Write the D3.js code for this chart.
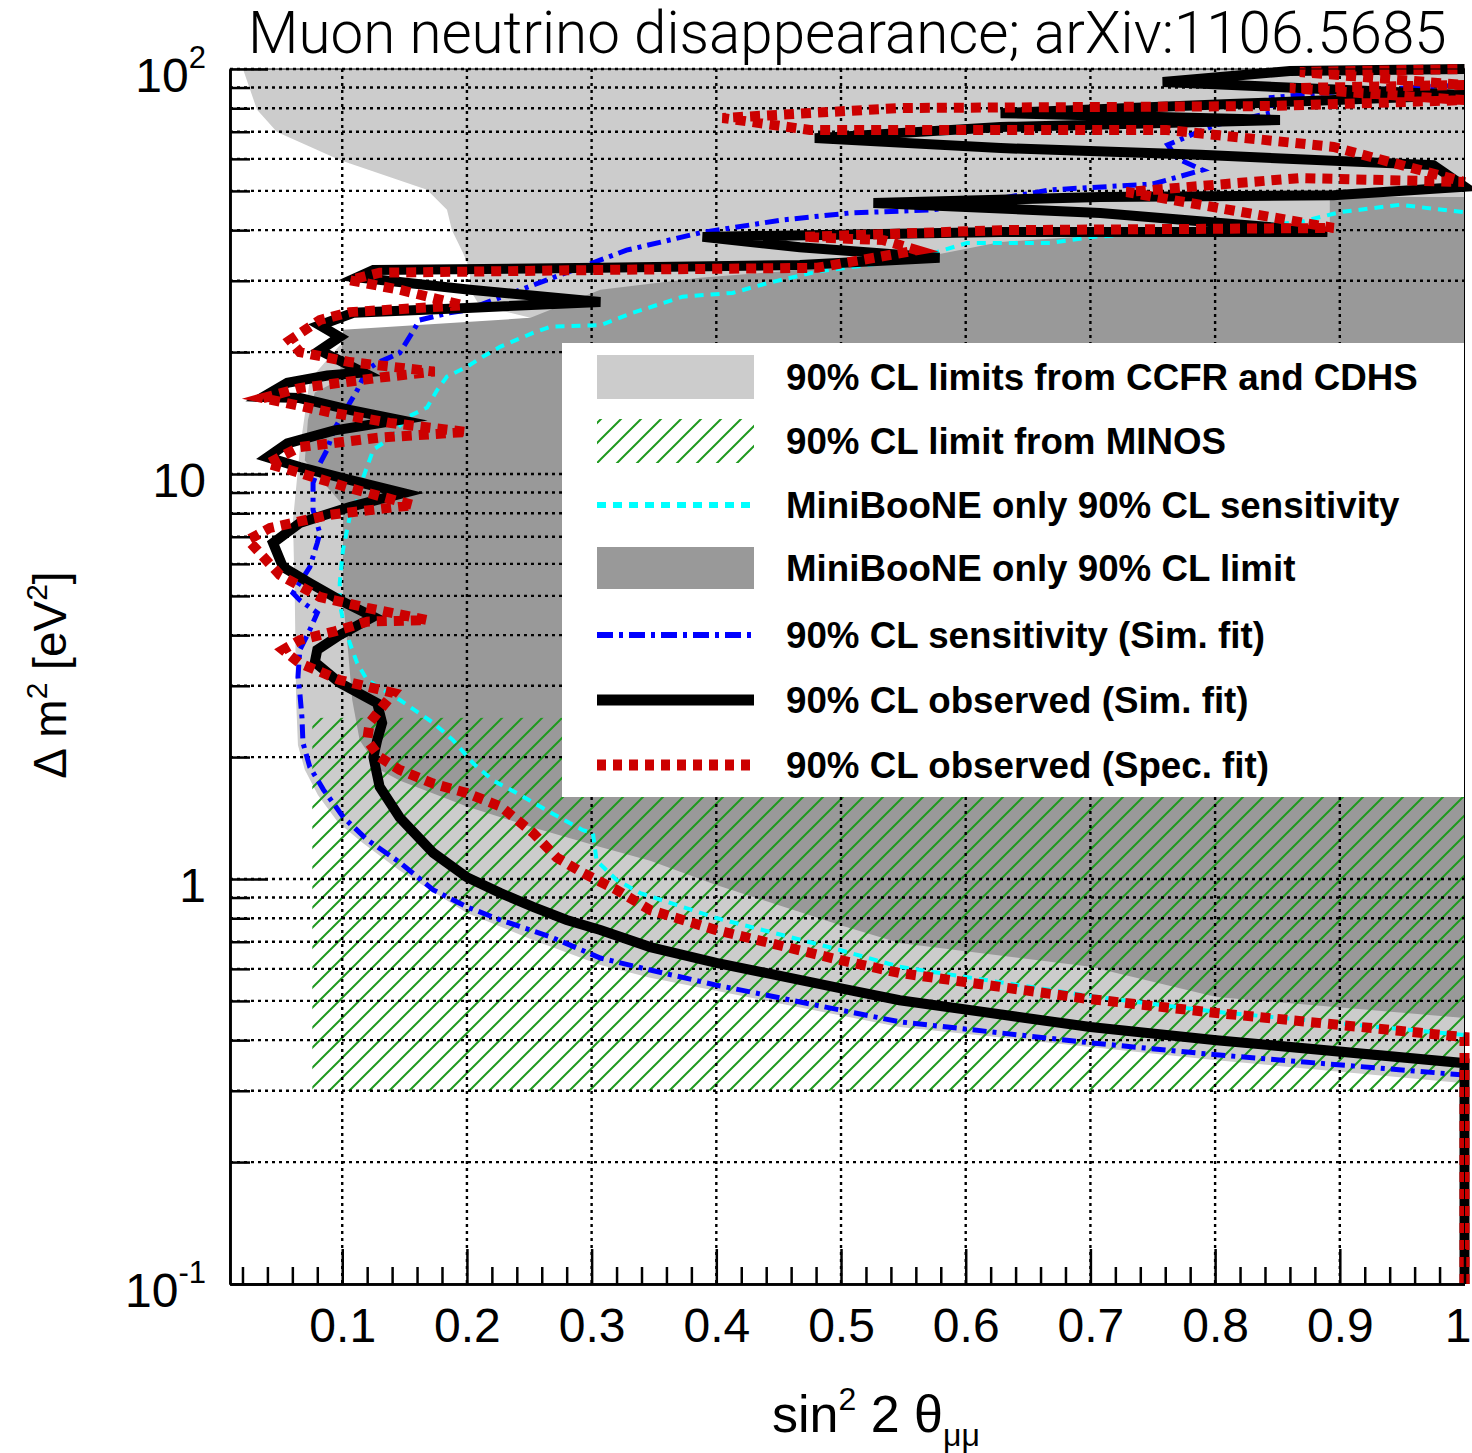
<!DOCTYPE html>
<html><head><meta charset="utf-8">
<script src="https://cdn.jsdelivr.net/npm/d3@7"></script>
<style>body{margin:0;background:#fff} svg{display:block}</style>
</head><body>
<svg id="chart" width="1472" height="1453"></svg>
<script>
// ---------------- data (sin^2 2theta, Delta m^2 [eV^2]) ----------------
const sinMajorTicks = [0.1,0.2,0.3,0.4,0.5,0.6,0.7,0.8,0.9,1];
const sinMinorTicks = [0.02,0.04,0.06,0.08,0.12,0.14,0.16,0.18,0.22,0.24,0.26,0.28,0.32,0.34,0.36,0.38,0.42,0.44,0.46,0.48,0.52,0.54,0.56,0.58,0.62,0.64,0.66,0.68,0.72,0.74,0.76,0.78,0.82,0.84,0.86,0.88,0.92,0.94,0.96,0.98];
const sinTickLabels = ["0.1","0.2","0.3","0.4","0.5","0.6","0.7","0.8","0.9","1"];
const dmMajorTicks = [0.1,1,10,100];
const dmMinorTicks = [0.2,0.3,0.4,0.5,0.6,0.7,0.8,0.9,2,3,4,5,6,7,8,9,20,30,40,50,60,70,80,90];
const dmTickLabels = [["10","-1"],["1",""],["10",""],["10","2"]];

const ccfrCdhsBoundary = [
 [0.0204,100],[0.0317,79.3],[0.0477,69.9],[0.098,59.6],[0.168,50.3],[0.184,44.9],[0.188,40.0],
 [0.197,35.1],[0.2025,31.9],[0.2025,28.5],[0.210,26.1],[0.251,24.3],[0.162,22.7],[0.098,20.8],
 [0.074,17.1],[0.066,11.5],[0.0605,7.69],[0.062,4.88],[0.063,2.77],[0.0645,2.14],[0.070,1.86],
 [0.0806,1.61],[0.0966,1.38],[0.116,1.23],[0.146,1.05],[0.200,0.824],[0.253,0.707],[0.307,0.613],
 [0.347,0.570],[0.547,0.431],[0.700,0.385],[0.801,0.357],[1.0,0.313],[1.0,100]
];
const minibooneLimitBoundary = [
 [1.0,48.3],[0.892,48.3],[0.892,39.4],[0.700,38.7],[0.628,37.4],[0.547,33.4],[0.387,30.5],
 [0.307,28.5],[0.251,24.3],[0.1006,22.7],[0.098,17.1],[0.078,15.9],[0.0725,13.6],[0.070,10.8],
 [0.090,9.13],[0.1006,8.38],[0.1006,4.88],[0.1046,3.68],[0.108,2.77],[0.114,2.20],[0.130,1.86],
 [0.146,1.75],[0.200,1.51],[0.253,1.34],[0.307,1.20],[0.347,1.11],[0.400,0.966],[0.499,0.770],
 [0.547,0.695],[0.700,0.607],[0.801,0.511],[1.0,0.454]
];
const minosSin = [0.076, 1.0];
const minosDm = [0.3, 2.5];

const minibooneSens = [
 [1.0,0.412],[0.801,0.470],[0.700,0.514],[0.547,0.607],[0.499,0.668],[0.400,0.801],[0.339,0.923],
 [0.320,0.995],[0.304,1.11],[0.301,1.30],[0.293,1.32],[0.267,1.46],[0.240,1.63],[0.221,1.75],
 [0.205,1.93],[0.189,2.20],[0.173,2.43],[0.146,2.77],[0.120,3.10],[0.112,3.41],[0.106,3.83],
 [0.1006,4.36],[0.098,4.80],[0.098,5.38],[0.1006,6.49],[0.106,7.83],[0.112,8.62],[0.117,9.84],
 [0.125,11.5],[0.136,12.1],[0.152,13.8],[0.168,14.6],[0.176,16.1],[0.184,17.4],[0.200,18.4],
 [0.213,19.5],[0.2265,20.6],[0.253,22.3],[0.267,23.1],[0.307,23.3],[0.333,25.0],[0.373,27.4],
 [0.413,28.0],[0.441,29.6],[0.481,31.6],[0.534,33.2],[0.574,35.1],[0.601,37.2],[0.668,37.2],
 [0.702,38.5],[0.788,40.0],[0.868,41.9],[0.900,44.3],[0.948,46.2],[1.0,44.3]
];
const simSens = [
 [1.0,0.328],[0.801,0.368],[0.700,0.394],[0.547,0.444],[0.499,0.475],[0.400,0.547],[0.347,0.596],
 [0.307,0.638],[0.267,0.720],[0.227,0.792],[0.200,0.853],[0.173,0.940],[0.146,1.10],[0.120,1.25],
 [0.101,1.42],[0.085,1.66],[0.074,1.89],[0.0685,2.17],[0.0677,2.51],[0.066,2.88],[0.0645,3.15],
 [0.066,3.68],[0.074,4.12],[0.080,4.54],[0.066,4.88],[0.0605,5.08],[0.074,5.89],[0.080,6.76],
 [0.082,7.15],[0.0766,8.15],[0.0766,9.50],[0.082,10.6],[0.088,11.5],[0.093,12.8],[0.112,16.1],
 [0.120,18.1],[0.128,18.8],[0.146,19.9],[0.154,21.8],[0.162,24.0],[0.186,25.0],[0.200,25.4],
 [0.243,28.5],[0.328,35.7],[0.387,39.4],[0.453,42.4],[0.507,44.1],[0.574,44.9],[0.668,50.3],
 [0.750,52.0],[0.790,56.3],[0.770,60.0],[0.762,65.0],[0.800,72.7],[0.845,78.0],[0.845,85.0],
 [0.900,88.0],[1.0,91.3]
];
const simObs = [
 [1.0,0.1],[1.0,0.351],[0.801,0.400],[0.700,0.431],[0.547,0.502],[0.499,0.538],[0.400,0.621],
 [0.347,0.679],[0.307,0.748],[0.280,0.792],[0.253,0.853],[0.227,0.923],[0.200,1.01],[0.173,1.16],
 [0.146,1.42],[0.130,1.69],[0.125,2.00],[0.128,2.20],[0.132,2.43],[0.128,2.72],[0.098,3.05],
 [0.078,3.43],[0.080,3.68],[0.098,4.00],[0.125,4.44],[0.098,4.88],[0.074,5.38],[0.0525,5.89],
 [0.0445,6.76],[0.066,7.57],[0.106,8.29],[0.149,8.97],[0.106,9.67],[0.066,10.4],[0.040,11.0],
 [0.056,11.9],[0.093,12.8],[0.146,13.6],[0.106,14.4],[0.066,15.4],[0.0365,15.5],[0.056,16.8],
 [0.088,17.5],[0.117,17.8],[0.082,20.2],[0.098,21.8],[0.082,23.3],[0.109,25.0],[0.200,25.7],
 [0.307,26.6],[0.2025,28.5],[0.133,30.1],[0.112,30.6],[0.125,31.9],[0.307,32.3],[0.467,32.8],
 [0.579,34.2],[0.467,36.3],[0.389,38.5],[0.628,39.6],[0.890,39.6],[0.708,44.1],[0.526,46.7],
 [0.708,48.3],[0.895,48.8],[1.0,51.2],[0.975,57.9],[0.788,61.4],[0.628,63.8],[0.479,67.5],
 [0.628,71.9],[0.852,74.8],[0.628,77.8],[0.812,81.9],[1.0,86.2],[0.758,92.9],[0.860,98.9],[1.0,100]
];
const specObs = [
 [1.0,0.1],[1.0,0.407],[0.801,0.467],[0.693,0.508],[0.547,0.586],[0.499,0.631],[0.400,0.748],
 [0.347,0.838],[0.320,0.940],[0.293,1.035],[0.272,1.13],[0.253,1.30],[0.227,1.51],[0.200,1.63],
 [0.173,1.72],[0.146,1.86],[0.130,2.00],[0.120,2.20],[0.122,2.43],[0.141,2.88],[0.098,3.10],
 [0.066,3.41],[0.0525,3.68],[0.066,3.89],[0.093,4.08],[0.120,4.32],[0.168,4.36],[0.120,4.67],
 [0.082,4.97],[0.050,5.63],[0.0244,6.87],[0.042,7.36],[0.090,7.93],[0.157,8.38],[0.106,9.23],
 [0.058,10.23],[0.040,10.6],[0.066,11.66],[0.130,12.3],[0.200,12.7],[0.138,13.37],[0.090,14.2],
 [0.0365,15.4],[0.066,16.3],[0.130,17.3],[0.174,17.9],[0.106,18.9],[0.066,20.0],[0.058,21.4],
 [0.082,24.0],[0.106,25.1],[0.197,26.1],[0.146,28.5],[0.106,30.1],[0.130,31.4],[0.307,31.9],
 [0.481,32.3],[0.561,35.7],[0.534,37.8],[0.470,38.5],[0.628,40.0],[0.895,40.5],[0.729,49.7],
 [0.868,53.8],[1.0,52.6],[0.895,64.2],[0.761,70.7],[0.475,70.7],[0.405,75.7],[0.547,80.1],
 [0.844,81.0],[1.0,83.8],[0.860,89.7],[1.0,91.3],[0.868,98.3],[1.0,100]
];

const legendLabels = [
 "90% CL limits from CCFR and CDHS",
 "90% CL limit from MINOS",
 "MiniBooNE only 90% CL sensitivity",
 "MiniBooNE only 90% CL limit",
 "90% CL sensitivity (Sim. fit)",
 "90% CL observed (Sim. fit)",
 "90% CL observed (Spec. fit)"
];

// ---------------- drawing ----------------
const svg = d3.select("#chart");
const X0 = 230, X1 = 1464.5, Y0 = 69, Y1 = 1284;
const x = d3.scaleLinear().domain([0.01, 1]).range([X0, X1]);
const y = d3.scaleLog().domain([0.1, 100]).range([Y1, Y0]);

const LIGHT = "#cccccc", DARK = "#999999", GREEN = "#1f991f", CYAN = "#00ffff", BLUE = "#0000ff", RED = "#cc0000";

const defs = svg.append("defs");
defs.append("clipPath").attr("id","plotclip").append("rect")
  .attr("x", X0).attr("y", Y0).attr("width", X1 - X0).attr("height", Y1 - Y0);
const pat = defs.append("pattern").attr("id","hatch").attr("patternUnits","userSpaceOnUse")
  .attr("width",20).attr("height",20);
pat.append("path").attr("d","M-5,5 L5,-5 M0,20 L20,0 M15,25 L25,15")
  .attr("stroke",GREEN).attr("stroke-width",2).attr("fill","none");

const plot = svg.append("g").attr("clip-path","url(#plotclip)");
const area = d3.line().x(d => x(d[0])).y(d => y(d[1]));

plot.append("path").attr("d", area(ccfrCdhsBoundary) + "Z").attr("fill", LIGHT);
plot.append("path").attr("d", area(minibooneLimitBoundary) + "Z").attr("fill", DARK);
plot.append("rect")
  .attr("x", x(minosSin[0])).attr("y", y(minosDm[1]))
  .attr("width", x(minosSin[1]) - x(minosSin[0])).attr("height", y(minosDm[0]) - y(minosDm[1]))
  .attr("fill","url(#hatch)");

// grid
const grid = svg.append("g").attr("stroke","#000").attr("stroke-width",2.4).attr("stroke-dasharray","3,4");
dmMinorTicks.concat(dmMajorTicks.filter(d => d > 0.1)).forEach(d => {
  grid.append("line").attr("x1", X0).attr("x2", X1).attr("y1", y(d)).attr("y2", y(d));
});
sinMajorTicks.filter(d => d < 1).forEach(d => {
  grid.append("line").attr("y1", Y0).attr("y2", Y1).attr("x1", x(d)).attr("x2", x(d));
});

// curves
const line = d3.line().x(d => x(d[0])).y(d => y(d[1]));
svg.append("path").attr("d", line(minibooneSens)).attr("fill","none").attr("stroke",CYAN)
  .attr("stroke-width",4).attr("stroke-dasharray","9,7");
svg.append("path").attr("d", line(simSens)).attr("fill","none").attr("stroke",BLUE)
  .attr("stroke-width",5).attr("stroke-dasharray","14,6,4,6");
svg.append("path").attr("d", line(simObs)).attr("fill","none").attr("stroke","#000")
  .attr("stroke-width",10).attr("stroke-linejoin","miter").attr("stroke-miterlimit",6);
svg.append("path").attr("d", line(specObs)).attr("fill","none").attr("stroke",RED)
  .attr("stroke-width",10).attr("stroke-dasharray","10,7").attr("stroke-linejoin","miter").attr("stroke-miterlimit",6);

// legend
const lg = svg.append("g");
lg.append("rect").attr("x",562).attr("y",343).attr("width",1466-562).attr("height",797-343).attr("fill","#fff");
const rowY = [377, 441, 505, 568, 635, 700, 765];
const SX0 = 597, SX1 = 754;
lg.append("rect").attr("x",SX0).attr("y",rowY[0]-22).attr("width",SX1-SX0).attr("height",44).attr("fill",LIGHT);
lg.append("rect").attr("x",SX0).attr("y",rowY[1]-22).attr("width",SX1-SX0).attr("height",44).attr("fill","url(#hatch)");
lg.append("line").attr("x1",SX0).attr("x2",SX1).attr("y1",rowY[2]).attr("y2",rowY[2]).attr("stroke",CYAN).attr("stroke-width",6).attr("stroke-dasharray","9,7");
lg.append("rect").attr("x",SX0).attr("y",rowY[3]-21).attr("width",SX1-SX0).attr("height",42).attr("fill",DARK);
lg.append("line").attr("x1",SX0).attr("x2",SX1).attr("y1",rowY[4]).attr("y2",rowY[4]).attr("stroke",BLUE).attr("stroke-width",6).attr("stroke-dasharray","16,6,4,6");
lg.append("line").attr("x1",SX0).attr("x2",SX1).attr("y1",rowY[5]).attr("y2",rowY[5]).attr("stroke","#000").attr("stroke-width",11);
lg.append("line").attr("x1",SX0).attr("x2",SX1).attr("y1",rowY[6]).attr("y2",rowY[6]).attr("stroke",RED).attr("stroke-width",11).attr("stroke-dasharray","9,7");
const ltg = lg.append("g");
const lt = ltg.selectAll("text.leg").data(legendLabels).enter().append("text").attr("class","leg")
  .attr("x",0).attr("y",(d,i) => rowY[i] + 13.5)
  .attr("font-family","'Liberation Sans',Arial,Helvetica,sans-serif")
  .attr("font-weight","bold").attr("font-size",37.5).attr("fill","#000").text(d => d);
{
  const w0 = lt.nodes()[0].getComputedTextLength();
  const sx = 632 / w0;
  ltg.attr("transform", `translate(786,0) scale(${sx},1)`);
}

// frame
svg.append("rect").attr("x",X0).attr("y",Y0).attr("width",X1-X0).attr("height",Y1-Y0)
  .attr("fill","none").attr("stroke","#000").attr("stroke-width",1);

// axes
const FONT = "'Liberation Sans',Arial,Helvetica,sans-serif";
const xMajor = d3.axisBottom(x).tickValues(sinMajorTicks).tickSize(-35).tickSizeOuter(0).tickPadding(24)
  .tickFormat((d,i) => sinTickLabels[i]);
const xMinor = d3.axisBottom(x).tickValues(sinMinorTicks).tickSize(-17).tickSizeOuter(0).tickFormat("");
const gx1 = svg.append("g").attr("transform",`translate(0,${Y1})`).call(xMajor);
const gx2 = svg.append("g").attr("transform",`translate(0,${Y1})`).call(xMinor);
const yMajor = d3.axisLeft(y).tickValues(dmMajorTicks).tickSize(-38).tickSizeOuter(0).tickFormat("");
const yMinor = d3.axisLeft(y).tickValues(dmMinorTicks).tickSize(-20).tickSizeOuter(0).tickFormat("");
const gy1 = svg.append("g").attr("transform",`translate(${X0},0)`).call(yMajor);
const gy2 = svg.append("g").attr("transform",`translate(${X0},0)`).call(yMinor);
[gx1,gx2,gy1,gy2].forEach(g => {
  g.selectAll("path.domain").attr("stroke","#000").attr("stroke-width",2.5);
  g.selectAll(".tick line").attr("stroke","#000").attr("stroke-width",2.5);
});
gx1.selectAll(".tick text").attr("font-family",FONT).attr("font-size",48).attr("fill","#000");
gx1.selectAll(".tick text").filter(d => d === 1).attr("text-anchor","end").attr("x", 1471 - x(1));

// y tick labels with exponents
dmMajorTicks.forEach((d,i) => {
  const lab = dmTickLabels[i];
  const t = svg.append("text").attr("x", 206).attr("y", y(d) + 23)
    .attr("text-anchor","end").attr("font-family",FONT).attr("font-size",48).attr("fill","#000");
  t.append("tspan").text(lab[0]);
  if (lab[1]) t.append("tspan").attr("dy",-24).attr("font-size",31).text(lab[1]);
});

// axis titles
const yt = svg.append("text").attr("transform","translate(66,675) rotate(-90)")
  .attr("text-anchor","middle").attr("font-family",FONT).attr("font-size",46).attr("fill","#000");
yt.append("tspan").text("\u0394 m");
yt.append("tspan").attr("dy",-19).attr("font-size",30).text("2");
yt.append("tspan").attr("dy",19).text(" [eV");
yt.append("tspan").attr("dy",-19).attr("font-size",30).text("2");
yt.append("tspan").attr("dy",19).text("]");

const xt = svg.append("text").attr("x",772).attr("y",1432)
  .attr("font-family",FONT).attr("font-size",52).attr("fill","#000");
xt.append("tspan").text("sin");
xt.append("tspan").attr("dy",-22).attr("font-size",32).text("2");
xt.append("tspan").attr("dy",22).text(" 2 \u03b8");
xt.append("tspan").attr("dy",14).attr("font-size",32).text("\u03bc\u03bc");

// title
const title = svg.append("text").attr("x",248).attr("y",53)
  .attr("font-family","Roboto,'Liberation Sans',sans-serif").attr("font-weight",300)
  .attr("font-size",54).attr("fill","#000").text("Muon neutrino disappearance; arXiv:1106.5685");
{
  const w = title.node().getComputedTextLength();
  title.attr("font-size", 54 * 1199 / w);
}
</script>
</body></html>
